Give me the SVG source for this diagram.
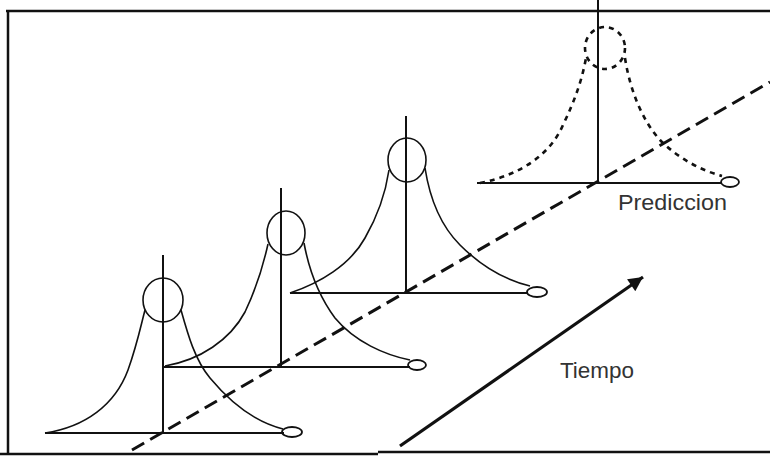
<svg xmlns="http://www.w3.org/2000/svg" width="770" height="464" viewBox="0 0 770 464">
<defs>
<style>
.frame{fill:none;stroke:#111;stroke-width:2.5}
.axis{fill:none;stroke:#111;stroke-width:2}
.arrow{fill:none;stroke:#111;stroke-width:3.2}
.curve{fill:none;stroke:#111;stroke-width:1.6}
.pred{fill:none;stroke:#111;stroke-width:2.6;stroke-dasharray:5 5}
.tail{fill:none;stroke:#111;stroke-width:1.8}
.time{fill:none;stroke:#111;stroke-width:3;stroke-dasharray:14 7}
.lbl{font-family:"Liberation Sans",Arial,sans-serif;font-size:22px;fill:#333}
</style>
<marker id="arr" viewBox="0 0 10 10" refX="10" refY="5" markerWidth="5.5" markerHeight="4.5" orient="auto" markerUnits="strokeWidth">
<path d="M0,0 L10,5 L0,10 z" fill="#111"/>
</marker>
</defs>
<rect width="770" height="464" fill="#fff"/>
<g id="frame">
<line class="frame" x1="6" y1="11" x2="770" y2="11"/>
<line class="frame" x1="8" y1="11" x2="8" y2="454"/>
<line class="frame" x1="0" y1="454" x2="378" y2="454"/>
<line class="frame" x1="378" y1="452" x2="770" y2="452"/>
</g>
<g id="connectors">
<line class="time" x1="132" y1="450" x2="770" y2="82"/>
<line class="arrow" x1="400" y1="446" x2="643" y2="277" marker-end="url(#arr)"/>
</g>
<g id="dist1">
<line class="axis" x1="163" y1="255" x2="163" y2="433"/>
<line class="axis" x1="45" y1="433" x2="284" y2="433"/>
<ellipse class="tail" cx="292" cy="432" rx="10" ry="5"/>
<ellipse class="curve" cx="163" cy="300" rx="20" ry="22"/>
<path class="curve" d="M45,433 C85,427 115,405 128,370 C137,345 141,325 145,310"/>
<path class="curve" d="M181,310 C188,335 195,360 210,378 C230,402 255,422 283,429"/>
</g>
<g id="dist2">
<line class="axis" x1="281" y1="188" x2="281" y2="367"/>
<line class="axis" x1="163" y1="367" x2="410" y2="367"/>
<ellipse class="tail" cx="417" cy="365" rx="9" ry="5"/>
<ellipse class="curve" cx="286" cy="233" rx="19" ry="22"/>
<path class="curve" d="M165,366 C200,360 230,340 245,312 C258,285 264,262 268,244"/>
<path class="curve" d="M304,243 C309,270 318,295 335,318 C355,342 385,355 410,360"/>
</g>
<g id="dist3">
<line class="axis" x1="406" y1="116" x2="406" y2="293"/>
<line class="axis" x1="290" y1="293" x2="528" y2="293"/>
<ellipse class="tail" cx="537" cy="292" rx="10" ry="5"/>
<ellipse class="curve" cx="407" cy="160" rx="19" ry="22"/>
<path class="curve" d="M290,293 C320,283 350,265 365,238 C380,212 386,190 389,170"/>
<path class="curve" d="M425,168 C430,200 440,225 460,245 C480,265 505,280 530,286"/>
</g>
<g id="prediccion">
<line class="axis" x1="598" y1="0" x2="598" y2="183"/>
<line class="axis" x1="477" y1="183" x2="722" y2="183"/>
<ellipse class="tail" cx="730" cy="182" rx="9" ry="5"/>
<ellipse class="pred" cx="605" cy="48" rx="20" ry="21"/>
<path class="pred" d="M480,183 C520,175 550,155 563,125 C575,100 582,80 586,58"/>
<path class="pred" d="M625,58 C630,90 642,120 660,140 C678,158 700,170 722,176"/>
<text class="lbl" x="618" y="210" textLength="109" lengthAdjust="spacingAndGlyphs">Prediccion</text>
</g>
<g id="tiempo">
<text class="lbl" x="560" y="378" textLength="74" lengthAdjust="spacingAndGlyphs">Tiempo</text>
</g>
</svg>
